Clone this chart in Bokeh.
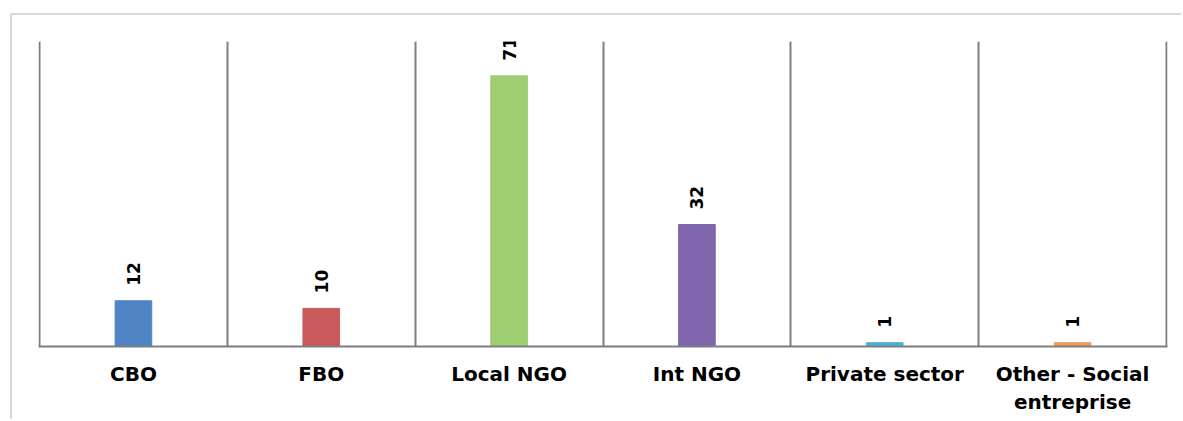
import math
from bokeh.plotting import figure
from bokeh.models import ColumnDataSource, Range1d, FixedTicker
from bokeh.embed import file_html
from bokeh.resources import INLINE
from bokeh.core.properties import value

categories = ["CBO", "FBO", "Local NGO", "Int NGO", "Private sector", "Other - Social\nentreprise"]
counts = [12, 10, 71, 32, 1, 1]
colors = ["#4f84c4", "#c9595a", "#9fce72", "#8066ad", "#4bb1d2", "#f49a56"]

x_pos = [i + 0.5 for i in range(len(categories))]
src = ColumnDataSource(dict(x=x_pos, top=counts, color=colors, label=[str(c) for c in counts]))

n = len(categories)
p = figure(width=1171, height=406, output_backend="svg", toolbar_location=None,
           x_range=Range1d(-0.0055, n + 0.0055), y_range=Range1d(0, 80),
           min_border_left=26, min_border_right=16, min_border_top=26, min_border_bottom=75)
p.margin = (13, 0, 0, 10)
p.styles = {"border-top": "2px solid #d9d9d9", "border-left": "2px solid #d9d9d9"}
p.outline_line_color = None
p.background_fill_color = "white"
p.border_fill_color = "white"

p.vbar(x="x", top="top", bottom=0, width=0.195, color="color", source=src)
p.text(x="x", y="top", text="label", source=src, angle=math.pi / 2, y_offset=-15,
       text_align="left", text_baseline="middle", text_font=value("DejaVu Sans"),
       text_font_style="bold", text_font_size="17px", text_color="black")

p.yaxis.visible = False
p.ygrid.visible = False
p.xgrid.ticker = FixedTicker(ticks=list(range(n + 1)))
p.xgrid.grid_line_color = "#7b7e82"
p.xgrid.grid_line_width = 2

ax = p.xaxis[0]
ax.ticker = FixedTicker(ticks=x_pos)
ax.major_label_overrides = {x: c for x, c in zip(x_pos, categories)}
ax.axis_line_color = "#7b7e82"
ax.axis_line_width = 2
ax.major_tick_line_color = None
ax.minor_tick_line_color = None
ax.major_tick_out = 0
ax.major_tick_in = 0
ax.major_label_standoff = 15
ax.major_label_text_font = "DejaVu Sans"
ax.major_label_text_font_style = "bold"
ax.major_label_text_font_size = "20px"
ax.major_label_text_color = "black"

open("out.html", "w").write(file_html(p, INLINE))
